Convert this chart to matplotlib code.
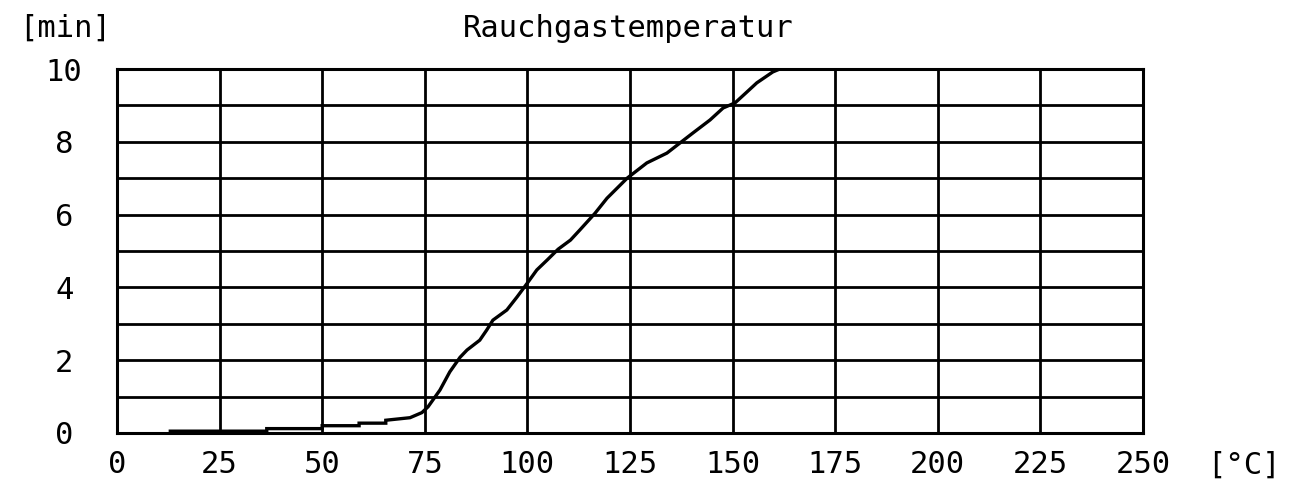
import matplotlib.pyplot as plt

# Rauchgastemperatur [°C] gegen Zeit [min]
temperatur = [13, 36.5, 36.5, 50, 50, 59, 59, 65.5, 65.5, 71.4, 74.3, 75.8, 78.7,
              81.1, 83.6, 85.3, 88.4, 90.1, 91.6, 95.0, 97.5, 100.0, 102.3,
              104.8, 107.5, 110.5, 112.8, 116.5, 119.4, 124.3, 129.1, 134.0,
              137.2, 140.3, 144.5, 147.7, 150.6, 153.5, 155.9, 159.8, 161.5]
zeit = [0.05, 0.05, 0.12, 0.12, 0.2, 0.2, 0.27, 0.27, 0.35, 0.42, 0.56, 0.72, 1.18,
        1.68, 2.08, 2.28, 2.55, 2.83, 3.1, 3.38, 3.74, 4.12, 4.48,
        4.75, 5.05, 5.3, 5.58, 6.04, 6.45, 7.0, 7.42, 7.69,
        7.97, 8.24, 8.6, 8.93, 9.07, 9.37, 9.62, 9.92, 10.0]

x_ticks = list(range(0, 251, 25))
y_ticks = list(range(0, 11, 2))

mono = 'DejaVu Sans Mono'
fs = 22

fig = plt.figure(figsize=(12.98, 4.84), dpi=100)
ax = fig.add_axes([0.0901, 0.1054, 0.7905, 0.7520])

ax.plot(temperatur, zeit, color='black', linewidth=2.4, solid_joinstyle='miter')

ax.set_xlim(0, 250)
ax.set_ylim(0, 10)

# Gitter: alle 25 °C und jede Minute
for xv in x_ticks[1:-1]:
    ax.axvline(xv, color='black', linewidth=2)
for yv in range(1, 10):
    ax.axhline(yv, color='black', linewidth=2)
for s in ax.spines.values():
    s.set_linewidth(2.2)

ax.set_xticks(x_ticks)
ax.set_xticklabels([str(v) for v in x_ticks], fontfamily=mono, fontsize=fs)
ax.set_yticks(y_ticks)
ax.set_yticklabels([str(v) for v in y_ticks], fontfamily=mono, fontsize=fs)
ax.tick_params(axis='both', length=0)
ax.tick_params(axis='x', pad=12)
ax.tick_params(axis='y', pad=38)
for lab in ax.get_yticklabels():
    lab.set_horizontalalignment('center')

fig.text(0.050, 0.942, '[min]', fontfamily=mono, fontsize=fs, ha='center', va='center')
fig.text(0.484, 0.942, 'Rauchgastemperatur', fontfamily=mono, fontsize=fs,
         ha='center', va='center')
fig.text(0.958, 0.038, '[°C]', fontfamily=mono, fontsize=fs, ha='center', va='center')

plt.savefig('out.png', dpi=100)
